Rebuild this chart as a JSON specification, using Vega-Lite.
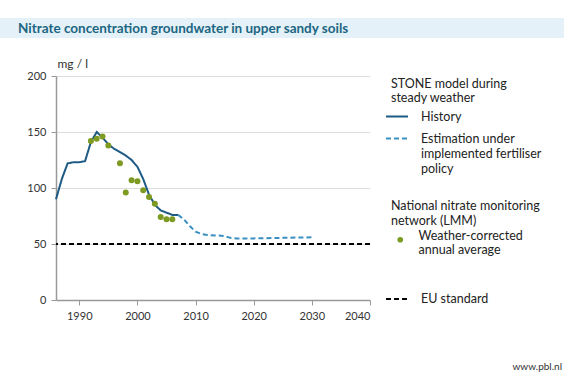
{
  "$schema": "https://vega.github.io/schema/vega-lite/v6.json",
  "padding": {"left": 0, "top": 18, "right": 0, "bottom": 0},
  "background": "white",
  "config": {
    "font": "Lato",
    "view": {"stroke": null},
    "title": {"font": "Lato"}
  },
  "title": {"text": "www.pbl.nl", "orient": "bottom", "anchor": "end", "frame": "bounds", "fontSize": 10, "fontWeight": "normal", "color": "#333", "offset": 41, "dx": -2},
  "datasets": {
    "model": [
      {"year": 1986, "value": 90, "series": "History"},
      {"year": 1987, "value": 108, "series": "History"},
      {"year": 1988, "value": 122, "series": "History"},
      {"year": 1989, "value": 123, "series": "History"},
      {"year": 1990, "value": 123, "series": "History"},
      {"year": 1991, "value": 124, "series": "History"},
      {"year": 1992, "value": 141, "series": "History"},
      {"year": 1993, "value": 150, "series": "History"},
      {"year": 1994, "value": 145, "series": "History"},
      {"year": 1995, "value": 139, "series": "History"},
      {"year": 1996, "value": 135, "series": "History"},
      {"year": 1997, "value": 132, "series": "History"},
      {"year": 1998, "value": 129, "series": "History"},
      {"year": 1999, "value": 125, "series": "History"},
      {"year": 2000, "value": 119, "series": "History"},
      {"year": 2001, "value": 108, "series": "History"},
      {"year": 2002, "value": 94, "series": "History"},
      {"year": 2003, "value": 85, "series": "History"},
      {"year": 2004, "value": 80, "series": "History"},
      {"year": 2005, "value": 78, "series": "History"},
      {"year": 2006, "value": 76, "series": "History"},
      {"year": 2007, "value": 76, "series": "History"},
      {"year": 2007, "value": 76, "series": "Estimation under implemented fertiliser policy"},
      {"year": 2008, "value": 72, "series": "Estimation under implemented fertiliser policy"},
      {"year": 2009, "value": 66, "series": "Estimation under implemented fertiliser policy"},
      {"year": 2010, "value": 61, "series": "Estimation under implemented fertiliser policy"},
      {"year": 2011, "value": 59, "series": "Estimation under implemented fertiliser policy"},
      {"year": 2012, "value": 58, "series": "Estimation under implemented fertiliser policy"},
      {"year": 2014, "value": 57.5, "series": "Estimation under implemented fertiliser policy"},
      {"year": 2015, "value": 57, "series": "Estimation under implemented fertiliser policy"},
      {"year": 2016, "value": 55.5, "series": "Estimation under implemented fertiliser policy"},
      {"year": 2017, "value": 55, "series": "Estimation under implemented fertiliser policy"},
      {"year": 2020, "value": 55, "series": "Estimation under implemented fertiliser policy"},
      {"year": 2025, "value": 55.5, "series": "Estimation under implemented fertiliser policy"},
      {"year": 2030, "value": 56, "series": "Estimation under implemented fertiliser policy"}
    ],
    "lmm": [
      {"year": 1992, "value": 142, "source": "Weather-corrected annual average"},
      {"year": 1993, "value": 144, "source": "Weather-corrected annual average"},
      {"year": 1994, "value": 146, "source": "Weather-corrected annual average"},
      {"year": 1995, "value": 138, "source": "Weather-corrected annual average"},
      {"year": 1997, "value": 122, "source": "Weather-corrected annual average"},
      {"year": 1998, "value": 96, "source": "Weather-corrected annual average"},
      {"year": 1999, "value": 107, "source": "Weather-corrected annual average"},
      {"year": 2000, "value": 106, "source": "Weather-corrected annual average"},
      {"year": 2001, "value": 98, "source": "Weather-corrected annual average"},
      {"year": 2002, "value": 92, "source": "Weather-corrected annual average"},
      {"year": 2003, "value": 86, "source": "Weather-corrected annual average"},
      {"year": 2004, "value": 74, "source": "Weather-corrected annual average"},
      {"year": 2005, "value": 72, "source": "Weather-corrected annual average"},
      {"year": 2006, "value": 72, "source": "Weather-corrected annual average"}
    ],
    "eu": [{"value": 50, "label": "EU standard"}],
    "heading": [{"t": "Nitrate concentration groundwater in upper sandy soils"}]
  },
  "spacing": 19,
  "vconcat": [
    {
      "width": 564,
      "height": 20,
      "view": {"fill": "#e5f1f8", "stroke": null},
      "data": {"name": "heading"},
      "mark": {"type": "point", "opacity": 0},
      "title": {"text": "Nitrate concentration groundwater in upper sandy soils", "orient": "bottom", "anchor": "start", "frame": "group", "offset": -16, "dx": 18, "fontSize": 13.5, "fontWeight": "bold", "color": "#1b6682", "baseline": "top"}
    },
    {
      "spacing": 0,
      "hconcat": [
        {
          "width": 26,
          "height": 20,
          "data": {"values": []},
          "mark": "point"
        },
        {
          "width": 314,
          "height": 224,
          "layer": [
            {
              "data": {"name": "eu"},
              "mark": {"type": "rule", "strokeDash": [5, 3], "strokeWidth": 2},
              "encoding": {
                "y": {"field": "value", "type": "quantitative"},
                "stroke": {
                  "field": "label", "type": "nominal",
                  "scale": {"range": ["#000000"]},
                  "legend": {
                    "orient": "none", "legendX": 385, "legendY": 269, "title": null,
                    "symbolType": "stroke", "symbolSize": 484, "symbolDash": [5, 3], "symbolStrokeWidth": 2,
                    "labelOffset": 12, "labelFontSize": 12.5, "labelColor": "#222", "labelBaseline": "alphabetic",
                    "padding": 0,
                    "encode": {"labels": {"update": {"dy": {"value": 4}}}}
                  }
                }
              }
            },
            {
              "data": {"name": "model"},
              "mark": {"type": "line", "strokeWidth": 2},
              "encoding": {
                "x": {"field": "year", "type": "quantitative", "scale": {"domain": [1986, 2040], "nice": false, "zero": false},
                  "axis": {"title": null, "values": [1990, 1995, 2000, 2005, 2010, 2015, 2020, 2025, 2030, 2035, 2040],
                    "labelExpr": "datum.value % 10 === 0 ? datum.label : ''", "format": "d",
                    "grid": false, "domainColor": "#999", "domainWidth": 1.5, "tickColor": "#999", "tickWidth": 1, "tickSize": 5,
                    "labelFontSize": 11, "labelColor": "#333", "labelPadding": 5}},
                "y": {"field": "value", "type": "quantitative", "scale": {"domain": [0, 200], "nice": false},
                  "axis": {"title": "mg / l", "titleAngle": 0, "titleX": 1, "titleY": -9, "titleAlign": "left", "titleBaseline": "alphabetic",
                    "titleFontWeight": "normal", "titleFontSize": 12, "titleColor": "#333",
                    "values": [0, 25, 50, 75, 100, 125, 150, 175, 200],
                    "labelExpr": "datum.value % 50 === 0 ? datum.label : ''",
                    "grid": true,
                    "gridColor": {"condition": {"test": "datum.value % 50 === 0 && datum.value > 0", "value": "#dddddd"}, "value": "transparent"},
                    "domainColor": "#999", "domainWidth": 1.5, "tickColor": "#999", "tickWidth": 1, "tickSize": 5,
                    "labelFontSize": 11, "labelColor": "#333", "labelPadding": 5}},
                "color": {"field": "series", "type": "nominal",
                  "scale": {"domain": ["History", "Estimation under implemented fertiliser policy"], "range": ["#1d5a84", "#3a8fc2"]},
                  "legend": {
                    "orient": "none", "legendX": 391, "legendY": 60,
                    "title": ["STONE model during", "steady weather"],
                    "titleFontSize": 12.5, "titleFontWeight": "normal", "titleColor": "#222", "titleLineHeight": 14, "titlePadding": 0,
                    "symbolType": "stroke", "symbolSize": 484, "symbolStrokeWidth": 2, "symbolOffset": -6,
                    "labelOffset": 12, "labelFontSize": 12.5, "labelColor": "#222", "labelBaseline": "alphabetic", "labelLimit": 300,
                    "labelExpr": "datum.label === 'History' ? 'History' : ['Estimation under', 'implemented fertiliser', 'policy']",
                    "rowPadding": 3, "padding": 0,
                    "encode": {"labels": {"update": {"dy": {"value": 4}, "lineHeight": {"value": 15}}}, "title": {"update": {"lineHeight": {"value": 14}}}}
                  }},
                "strokeDash": {"field": "series", "type": "nominal",
                  "scale": {"domain": ["History", "Estimation under implemented fertiliser policy"], "range": [[1, 0], [5, 3]]},
                  "legend": null}
              }
            },
            {
              "data": {"name": "lmm"},
              "mark": {"type": "circle", "size": 36, "opacity": 1},
              "encoding": {
                "x": {"field": "year", "type": "quantitative"},
                "y": {"field": "value", "type": "quantitative"},
                "fill": {"field": "source", "type": "nominal",
                  "scale": {"range": ["#7d9a22"]},
                  "legend": {
                    "orient": "none", "legendX": 391, "legendY": 182,
                    "title": ["National nitrate monitoring", "network (LMM)"],
                    "titleFontSize": 12.5, "titleFontWeight": "normal", "titleColor": "#222", "titleLineHeight": 15, "titlePadding": 6,
                    "symbolType": "circle", "symbolSize": 32, "symbolStrokeWidth": 0, "symbolOffset": 3,
                    "labelOffset": 12, "labelFontSize": 12.5, "labelColor": "#222", "labelBaseline": "alphabetic", "labelLimit": 300,
                    "labelExpr": "['Weather-corrected', 'annual average']",
                    "padding": 0,
                    "encode": {"labels": {"update": {"dy": {"value": 13}, "lineHeight": {"value": 15}}}, "title": {"update": {"lineHeight": {"value": 15}}}}
                  }}
              }
            }
          ]
        }
      ]
    }
  ]
}
